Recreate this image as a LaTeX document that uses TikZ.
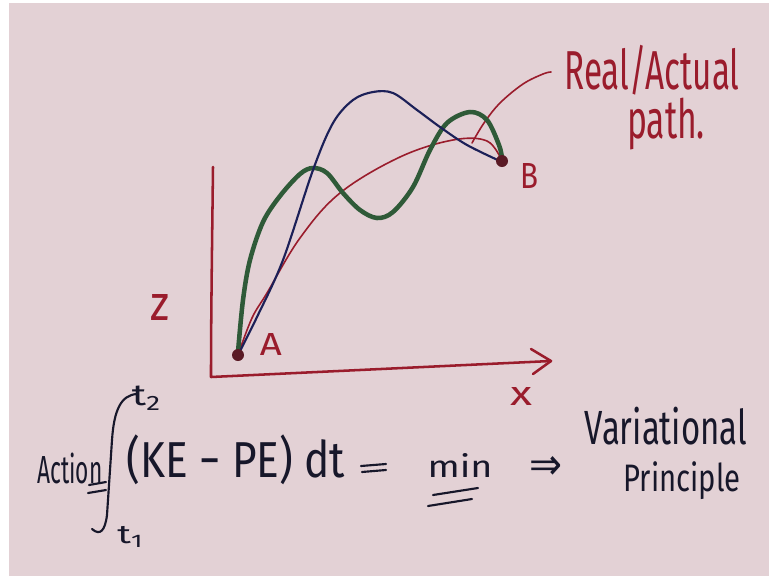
\documentclass[tikz,border=0pt]{standalone}
\usepackage{fontspec}
\setmainfont{Fira Sans}
\newfontfamily\symfont{DejaVu Sans}
\usepackage{graphicx}
\newlength\pxu \setlength\pxu{0.75pt}
\newcommand\hw[3]{\resizebox*{#1\pxu}{#2\pxu}{#3}}
\definecolor{board}{HTML}{E3D1D5}
\definecolor{ink}{HTML}{9A1C2C}
\definecolor{navy}{HTML}{1C2058}
\definecolor{gpen}{HTML}{2F5A38}
\definecolor{blk}{HTML}{17172A}
\definecolor{dotc}{HTML}{5A1A25}
\tikzset{
  hwtext/.style={inner sep=0pt, outer sep=0pt, anchor=center},
  redlbl/.style={hwtext, text=ink},
  blklbl/.style={hwtext, text=blk},
  axisline/.style={draw=ink, line width=1.9pt, line cap=round, line join=round},
  realpath/.style={draw=ink, line width=1.2pt, line cap=round},
  bluepath/.style={draw=navy, line width=1.6pt, line cap=round},
  greenpath/.style={draw=gpen, line width=3.4pt, line cap=round},
  pen/.style={draw=blk, line width=1.6pt, line cap=round},
  enddot/.style={circle, fill=dotc, inner sep=0pt, minimum size=9pt}
}
\begin{document}
\begin{tikzpicture}[x=0.75pt,y=-0.75pt]
\useasboundingbox (0,0) rectangle (769,576);
\fill[white] (0,0) rectangle (769,576);
\fill[board] (9,3) rectangle (769,576);

% axes
\coordinate (O) at (211,377);
\coordinate (Ytop) at (213,167);
\coordinate (Xtip) at (551,361);
\draw[axisline] (Ytop) .. controls (212,250) and (211,320) .. (O) -- (Xtip);
\draw[axisline] (531,349) -- (Xtip) -- (533,374);

% end points
\coordinate (A) at (238,355);
\coordinate (B) at (502,161);

% real path
\draw[realpath] plot[smooth, tension=0.6] coordinates {(238,355) (252,318) (267,293) (300,238) (340,193) (400,157) (453,140) (487,141) (502,161)};
% pointer
\draw[realpath] plot[smooth, tension=0.6] coordinates {(472,143) (484,123) (500,103) (523,84) (543,74) (551,72)};

% green path
\draw[greenpath] plot[smooth, tension=0.55] coordinates {(238,352) (243,300) (250,260) (263,222) (280,196) (300,174) (313,168) (327,173) (343,193) (360,210) (377,218) (393,212) (413,187) (430,150) (447,123) (470,112) (487,120) (499,145) (502,158)};

% blue path
\draw[bluepath] plot[smooth, tension=0.55] coordinates {(238,355) (257,317) (283,260) (313,170) (333,123) (353,100) (373,92) (393,93) (417,110) (440,127) (467,145) (502,162)};

\node[enddot] (Adot) at (A) {};
\node[enddot] (Bdot) at (B) {};

% labels
\node[redlbl] (lA) at (271,344) {\hw{22}{22}{A}};
\node[redlbl] (lB) at (529,176) {\hw{18}{25}{B}};
\node[redlbl] (lz) at (160,307) {\hw{19}{26}{z}};
\node[redlbl] (lx) at (521,396) {\hw{22}{18}{x}};
\node[redlbl] (lreal) at (652,70) {\hw{175}{50}{Real/Actual}};
\node[redlbl] (lpath) at (666,124) {\hw{78}{52}{path.}};

% formula
\node[blklbl] (act) at (70,468) {\hw{65}{31}{Action}};
\draw[pen] (89,485) -- (106,482);
\draw[pen] (88,493) -- (106,490);
\draw[pen] (137,394) .. controls (121,395) and (114,410) .. (112,440) -- (107,515) .. controls (105,531) and (100,536) .. (92,529);
\node[blklbl] (t2) at (147,398) {\hw{30}{24}{t\textsubscript{2}}};
\node[blklbl] (t1) at (131,537) {\hw{27}{21}{t\textsubscript{1}}};
\node[blklbl] (ke) at (236,460) {\hw{218}{50}{(KE − PE) dt}};
\draw[pen] (361,466) -- (386,464);
\draw[pen] (362,472) -- (386,470);
\node[blklbl] (mn) at (460,465) {\hw{65}{24}{min}};
\draw[pen] (433,495) -- (478,488);
\draw[pen] (428,506) -- (472,499);
\node[blklbl] (impl) at (546,468) {\hw{33}{23}{\symfont ⇒}};
\node[blklbl] (var) at (666,426) {\hw{162}{38}{Variational}};
\node[blklbl] (pr) at (682,481) {\hw{117}{38}{Principle}};
\end{tikzpicture}
\end{document}
